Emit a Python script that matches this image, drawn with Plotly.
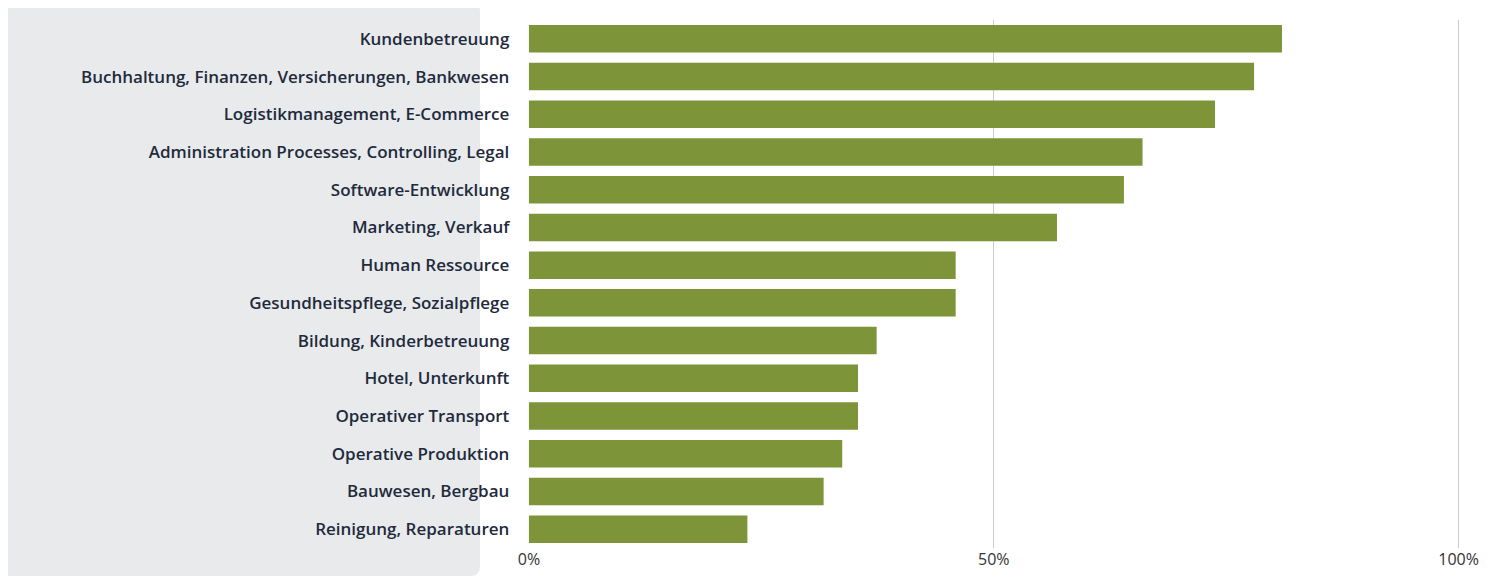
import plotly.graph_objects as go

categories = ["Kundenbetreuung", "Buchhaltung, Finanzen, Versicherungen, Bankwesen",
              "Logistikmanagement, E-Commerce", "Administration Processes, Controlling, Legal",
              "Software-Entwicklung", "Marketing, Verkauf", "Human Ressource",
              "Gesundheitspflege, Sozialpflege", "Bildung, Kinderbetreuung", "Hotel, Unterkunft",
              "Operativer Transport", "Operative Produktion", "Bauwesen, Bergbau",
              "Reinigung, Reparaturen"]
values = [81.0, 78.0, 73.8, 66.0, 64.0, 56.8, 45.9, 45.9, 37.4, 35.4, 35.4, 33.7, 31.7, 23.5]
tick_vals = [0, 50, 100]
tick_text = ["0%", "50%", "100%"]

fig = go.Figure(go.Bar(x=values, y=categories, orientation="h",
                       marker=dict(color="#7d9439", line=dict(width=0))))

r = 10
x0, x1, y0, y1 = -528, -48, -556, 18
path = (f"M {x0+r},{y1} L {x1-r},{y1} Q {x1},{y1} {x1},{y1-r} L {x1},{y0+r} Q {x1},{y0} {x1-r},{y0} "
        f"L {x0+r},{y0} Q {x0},{y0} {x0},{y0+r} L {x0},{y1-r} Q {x0},{y1} {x0+r},{y1} Z")
fig.add_shape(type="path", path=path, xref="paper", yref="paper", xsizemode="pixel",
              ysizemode="pixel", xanchor=0, yanchor=1, fillcolor="#e8eaec",
              line=dict(width=0), layer="below")

fig.update_layout(
    width=1495, height=578, margin=dict(l=520, r=43, t=12, b=38),
    plot_bgcolor="white", paper_bgcolor="white", bargap=0.27, showlegend=False,
    font=dict(family="Open Sans", color="#1f2a3c"),
    xaxis=dict(range=[-0.1, 100.15], tickvals=tick_vals, ticktext=tick_text, showgrid=True,
               gridcolor="#cccccc", gridwidth=1, zeroline=False,
               tickfont=dict(size=16, color="#333333"), fixedrange=True),
    yaxis=dict(autorange="reversed", ticksuffix="    ", showgrid=False,
               tickfont=dict(size=17, color="#1f2a3c", weight=600)),
)
fig.write_html("out.html")
